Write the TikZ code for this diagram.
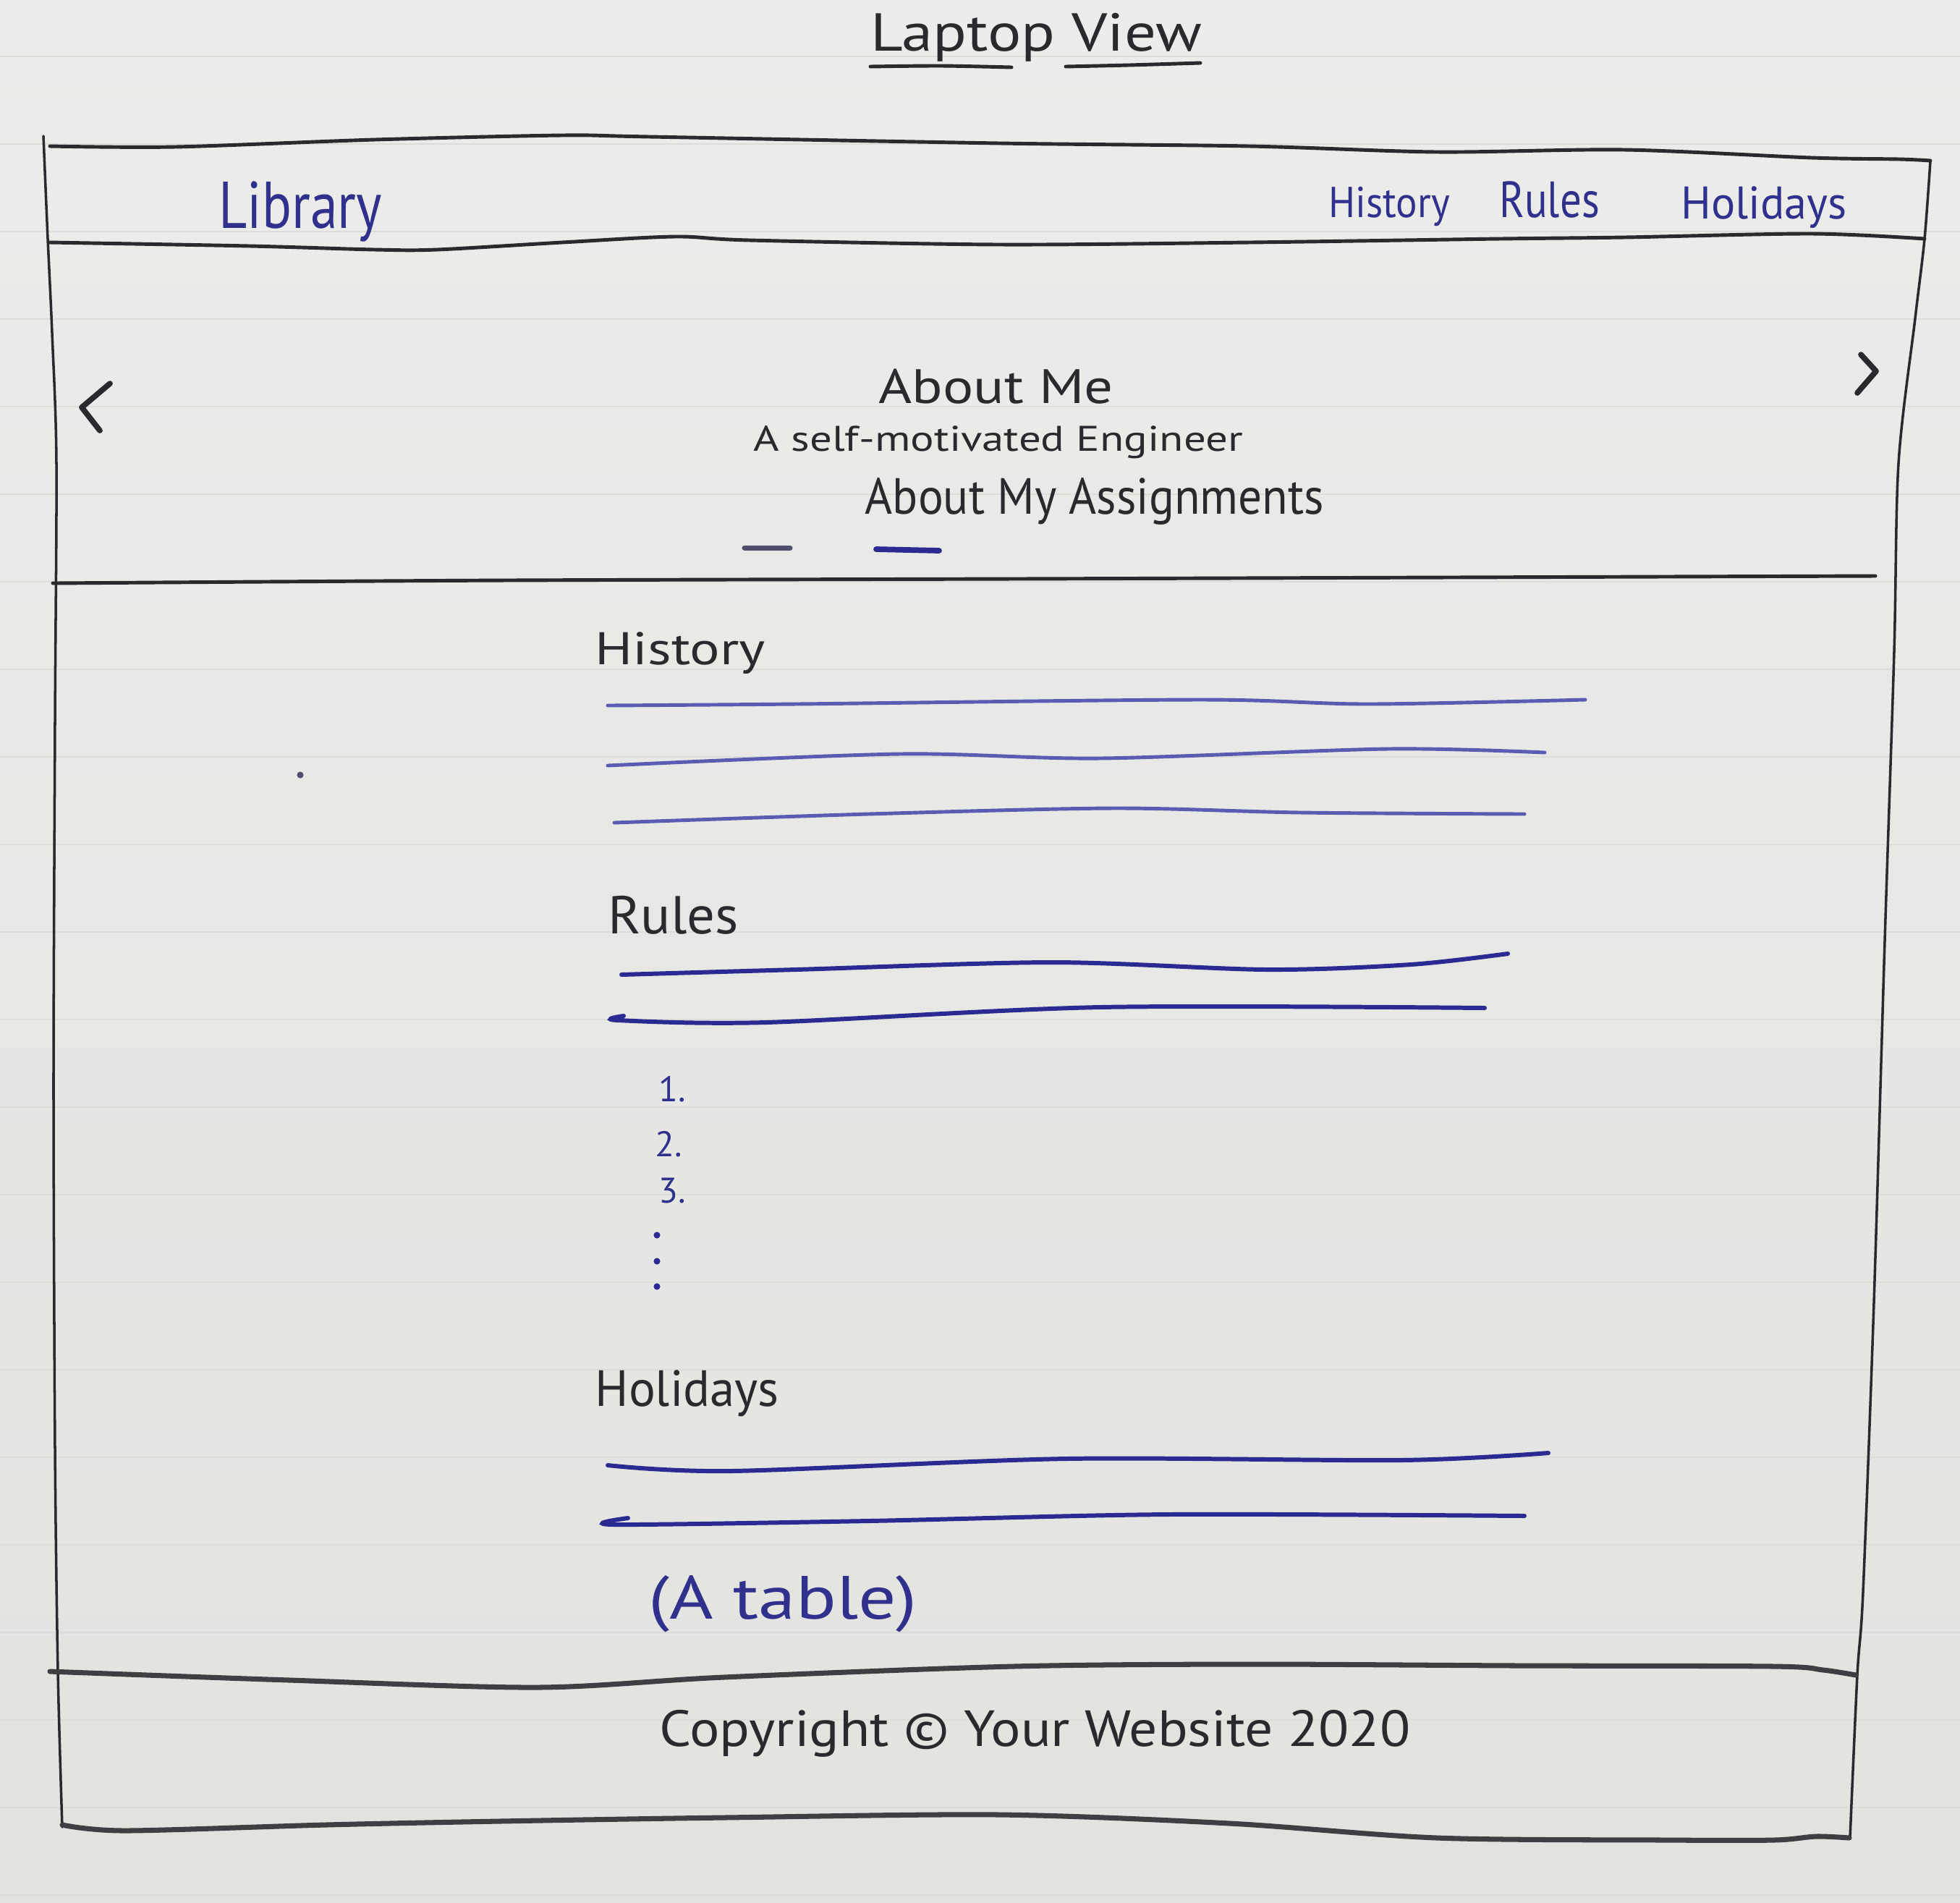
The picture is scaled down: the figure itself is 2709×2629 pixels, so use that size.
\documentclass[tikz,border=0pt]{standalone}
\usepackage{fontspec}
\setmainfont{PT Sans}

\definecolor{papertop}{HTML}{ECECEA}
\definecolor{paperbot}{HTML}{E2E2DF}
\definecolor{ruling}{HTML}{DCDCD8}
\definecolor{ink}{HTML}{2A2A2E}
\definecolor{pen}{HTML}{30318C}
\definecolor{penlight}{HTML}{5A5BB2}
\definecolor{pendark}{HTML}{2A2A92}
\definecolor{greypen}{HTML}{4E4F6E}

% text set at a given size, then stretched or squeezed to a given width
\newcommand\hw[3]{{\fontsize{#2}{#2}\selectfont\resizebox{#1}{\height}{#3}}}

\begin{document}
\begin{tikzpicture}[x=0.01cm,y=-0.01cm,
  txt/.style={inner sep=0pt, anchor=base west, text=ink},
  bluetxt/.style={txt, text=pen},
  frame/.style={draw=ink, line width=1.4pt, line cap=round, line join=round},
  border/.style={draw=ink, line width=1.0pt, line cap=round},
  heavy/.style={draw=ink!90, line width=2.0pt, line cap=round, line join=round},
  pline/.style={draw=penlight, line width=1.4pt, line cap=round},
  pdark/.style={draw=pendark, line width=1.7pt, line cap=round},
  chevron/.style={draw=ink, line width=2.2pt, line cap=round, line join=round},
  ruled/.style={draw=ruling, line width=0.5pt}]

% paper
\useasboundingbox (0,0) rectangle (2709,2629);
\shade[top color=papertop, bottom color=paperbot] (0,0) rectangle (2709,2629);
\foreach \k in {0,...,21}
  \draw[ruled] (0,{78+121*\k}) -- (2709,{78+121*\k});

% heading of the page
\node[txt] (title) at (1203,70) {\hw{4.57cm}{21pt}{Laptop View}};
\draw[frame] plot[smooth] coordinates {(1203,92) (1300,91) (1398,93)};
\draw[frame] plot[smooth] coordinates {(1473,92) (1560,90) (1659,87)};

% outer frame: left and right sides
\draw[border] plot[smooth] coordinates {(60,188) (66,330) (72,460) (78,640) (76,1000) (74,1500) (76,2000) (80,2310) (86,2525)};
\draw[border] plot[smooth] coordinates {(2668,222) (2660,330) (2647,440) (2624,640) (2618,900) (2605,1300) (2590,1800) (2575,2200) (2567,2315) (2557,2540)};

% navigation bar
\draw[frame] plot[smooth] coordinates {(69,202) (242,203) (518,193) (777,187) (898,189) (1382,198) (1727,202) (1986,210) (2245,207) (2504,218) (2625,220) (2668,222)};
\draw[frame] plot[smooth] coordinates {(69,335) (345,340) (518,345) (604,345) (777,335) (933,327) (1036,332) (1382,338) (1727,335) (2073,330) (2245,328) (2504,323) (2660,330)};
\node[bluetxt] (brand) at (302,315) {\hw{2.25cm}{26pt}{Library}};
\node[bluetxt] (navhistory) at (1836,300) {\hw{1.67cm}{17pt}{History}};
\node[bluetxt] (navrules) at (2072,300) {\hw{1.38cm}{20pt}{Rules}};
\node[bluetxt] (navholidays) at (2323,302) {\hw{2.29cm}{18pt}{Holidays}};

% carousel
\draw[chevron] (152,530) -- (113,563) -- (138,595);
\draw[chevron] (2572,490) -- (2593,513) -- (2567,543);
\node[txt] (aboutme) at (1214,557) {\hw{3.24cm}{19pt}{About Me}};
\node[txt] (tagline) at (1041,623) {\hw{6.76cm}{14pt}{A self-motivated Engineer}};
\node[txt] (assign) at (1195,710) {\hw{6.34cm}{20pt}{About My Assignments}};
\draw[draw=greypen, line width=2pt, line cap=round] (1029,757) -- (1092,757);
\draw[draw=pendark, line width=2.2pt, line cap=round] (1211,759) -- (1298,761);
\draw[frame] plot[smooth] coordinates {(73,806) (700,802) (1400,800) (2000,798) (2592,796)};

% History section
\node[txt] (hhistory) at (822,918) {\hw{2.35cm}{18pt}{History}};
\draw[pline] plot[smooth] coordinates {(840,975) (1100,973) (1659,967) (1890,973) (2191,967)};
\draw[pline] plot[smooth] coordinates {(840,1058) (1243,1042) (1520,1048) (1918,1035) (2135,1040)};
\draw[pline] plot[smooth] coordinates {(849,1137) (1200,1125) (1539,1117) (1798,1123) (2107,1125)};
\fill[greypen] (415,1071) circle (1.3pt);

% Rules section
\node[txt] (hrules) at (840,1290) {\hw{1.80cm}{21pt}{Rules}};
\draw[pdark] plot[smooth] coordinates {(859,1347) (1100,1340) (1455,1330) (1751,1340) (1950,1333) (2084,1318)};
\draw[pdark] plot[smooth] coordinates {(862,1404) (854,1410) (1058,1413) (1520,1392) (2052,1393)};
\node[bluetxt] (item1) at (910,1522) {\fontsize{14pt}{14pt}\selectfont 1.};
\node[bluetxt] (item2) at (905,1598) {\fontsize{14pt}{14pt}\selectfont 2.};
\node[bluetxt] (item3) at (910,1662) {\fontsize{14pt}{14pt}\selectfont 3.};
\foreach \yy in {1707,1743,1778}
  \fill[pendark] (908,\yy) circle (1.3pt);

% Holidays section
\node[txt] (hholidays) at (822,1943) {\hw{2.54cm}{20pt}{Holidays}};
\draw[pdark] plot[smooth] coordinates {(840,2025) (1011,2033) (1474,2016) (1936,2018) (2140,2008)};
\draw[pdark] plot[smooth] coordinates {(868,2098) (849,2107) (1200,2102) (1613,2093) (2107,2095)};
\node[bluetxt] (tablenote) at (896,2237) {\hw{3.71cm}{24pt}{(A table)}};

% footer
\draw[heavy] plot[smooth] coordinates {(69,2310) (400,2322) (743,2332) (1000,2318) (1400,2303) (1727,2300) (2100,2302) (2452,2303) (2520,2308) (2565,2315)};
\node[txt] (copyright) at (911,2413) {\hw{10.37cm}{20pt}{Copyright © Your Website 2020}};
\draw[heavy] plot[smooth] coordinates {(86,2522) (173,2530) (450,2522) (690,2517) (1000,2512) (1382,2508) (1700,2520) (1986,2540) (2300,2543) (2452,2543) (2510,2538) (2556,2540)};
\end{tikzpicture}
\end{document}
